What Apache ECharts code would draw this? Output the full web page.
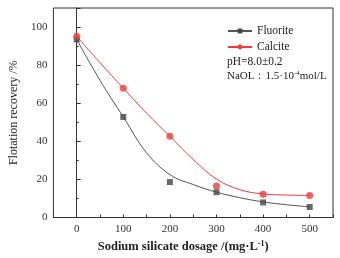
<!DOCTYPE html>
<html>
<head>
<meta charset="utf-8">
<script src="https://cdn.jsdelivr.net/npm/echarts@6/dist/echarts.min.js"></script>
<style>
  html, body { margin: 0; padding: 0; background: #fff; }
  #main { width: 340px; height: 258px; }
</style>
</head>
<body>
<div id="main"></div>
<script>
// measured points
var dosage = [0, 100, 200, 300, 400, 500];
var fluorite = [93.5, 52.8, 18.6, 13.3, 7.9, 5.5];
var calcite = [95.2, 67.9, 42.6, 16.6, 12.2, 11.6];

// fitted curves, every 50 mg/L
var fitDosage = [0, 50, 100, 150, 200, 250, 300, 350, 400, 450, 500];
var fluoriteFit = [93.5, 72, 52.8, 34, 22.5, 17.3, 13.3, 10.4, 8.2, 6.7, 5.6];
var calciteFit = [95.2, 81.3, 67.9, 54.8, 42.6, 30.5, 20.2, 14.6, 12.4, 11.8, 11.6];

var xTicks = [0, 100, 200, 300, 400, 500];
var yTicks = [0, 20, 40, 60, 80, 100];

function pairs(xs, ys) {
  return xs.map(function (x, i) { return [x, ys[i]]; });
}

var serif = 'Liberation Serif';
var gray = '#454545';
var red = '#f03a3a';

var chartDom = document.getElementById('main');
var myChart = echarts.init(chartDom);
var option;

option = {
  animation: false,
  textStyle: { fontFamily: serif },
  grid: { left: 43, right: 7, top: 8, bottom: 35, show: true, borderColor: '#333', borderWidth: 1 },
  legend: {
    left: 222,
    top: 20,
    orient: 'vertical',
    itemWidth: 24,
    itemHeight: 6,
    itemGap: 4,
    textStyle: { fontFamily: serif, fontSize: 11.5, color: '#222' },
    data: ['Fluorite', 'Calcite']
  },
  xAxis: {
    type: 'value',
    min: -50,
    max: 550,
    interval: 50,
    axisLine: { lineStyle: { color: '#333' } },
    axisTick: { inside: true, length: 3, lineStyle: { color: '#333' } },
    splitLine: { show: false },
    axisLabel: {
      fontFamily: serif, fontSize: 11, color: '#333', margin: 6,
      formatter: function (v) { return xTicks.indexOf(v) >= 0 ? v : ''; }
    },
    name: 'Sodium silicate dosage /(mg·L{s|-1})',
    nameLocation: 'middle',
    nameGap: 22,
    nameTextStyle: {
      fontFamily: serif, fontSize: 12.5, fontWeight: 'bold', color: '#222',
      padding: [0, 20, 0, 0],
      rich: { s: { fontFamily: serif, fontSize: 8, fontWeight: 'bold', verticalAlign: 'top', padding: [0, 0, 6, 0] } }
    }
  },
  yAxis: {
    type: 'value',
    min: 0,
    max: 110,
    interval: 20,
    axisLine: { show: true, lineStyle: { color: '#333' } },
    axisTick: { inside: true, length: 4, lineStyle: { color: '#333' } },
    minorTick: { show: true, splitNumber: 2, length: 2, lineStyle: { color: '#333' } },
    splitLine: { show: false },
    axisLabel: {
      fontFamily: serif, fontSize: 11, color: '#333', margin: 6,
      formatter: function (v) { return yTicks.indexOf(v) >= 0 ? v : ''; }
    },
    name: 'Flotation recovery /%',
    nameLocation: 'middle',
    nameGap: 24,
    nameTextStyle: { fontFamily: serif, fontSize: 12, color: '#222' }
  },
  graphic: [
    {
      type: 'text', left: 227, top: 56,
      style: { text: 'pH=8.0±0.2', font: '11.5px "Liberation Serif"', fill: '#222' }
    },
    {
      type: 'text', left: 227, top: 70,
      style: {
        text: 'NaOL：1.5·10{s|-4}mol/L',
        font: '11px "Liberation Serif"', fill: '#222',
        rich: { s: { fontSize: 7, fontFamily: serif, verticalAlign: 'top', padding: [0, 0, 5, 0] } }
      }
    }
  ],
  series: [
    {
      name: 'Fluorite',
      type: 'line',
      smooth: 0.4,
      symbol: 'rect',
      symbolSize: 6,
      showSymbol: false,
      itemStyle: { color: gray },
      lineStyle: { color: '#555', width: 1 },
      data: pairs(fitDosage, fluoriteFit),
      z: 2
    },
    {
      name: 'Calcite',
      type: 'line',
      smooth: 0.4,
      symbol: 'circle',
      symbolSize: 7,
      showSymbol: false,
      itemStyle: { color: red },
      lineStyle: { color: red, width: 1 },
      data: pairs(fitDosage, calciteFit),
      z: 2
    },
    {
      name: 'Fluorite',
      type: 'scatter',
      symbol: 'rect',
      symbolSize: 6,
      itemStyle: { color: gray },
      data: pairs(dosage, fluorite),
      z: 3
    },
    {
      name: 'Calcite',
      type: 'scatter',
      symbol: 'circle',
      symbolSize: 7,
      itemStyle: { color: red },
      data: pairs(dosage, calcite),
      z: 4
    }
  ]
};

option && myChart.setOption(option);
</script>
</body>
</html>
